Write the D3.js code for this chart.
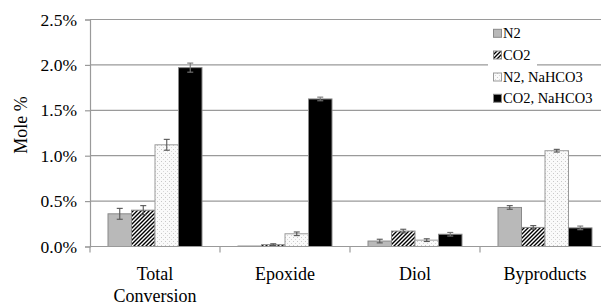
<!DOCTYPE html>
<html><head><meta charset="utf-8">
<script src="https://cdn.jsdelivr.net/npm/d3@7"></script>
<style>body{margin:0;background:#fff}svg{display:block}svg text{font-family:"Liberation Serif","Times New Roman",Times,serif}</style>
</head><body>
<script>
const categories = ["Total Conversion", "Epoxide", "Diol", "Byproducts"];
const series = ["N2", "CO2", "N2, NaHCO3", "CO2, NaHCO3"];
const valN2      = [0.36, 0.005, 0.06, 0.43];
const valCO2     = [0.40, 0.02, 0.17, 0.21];
const valN2Na    = [1.12, 0.14, 0.07, 1.055];
const valCO2Na   = [1.97, 1.625, 0.135, 0.205];
const errN2      = [0.06, 0.0, 0.02, 0.02];
const errCO2     = [0.05, 0.01, 0.02, 0.02];
const errN2Na    = [0.06, 0.02, 0.015, 0.015];
const errCO2Na   = [0.05, 0.02, 0.02, 0.02];
const yTicks = [0, 0.5, 1.0, 1.5, 2.0, 2.5];

const values = [valN2, valCO2, valN2Na, valCO2Na];
const errors = [errN2, errCO2, errN2Na, errCO2Na];

const W = 601, H = 304;
const svg = d3.select("body").append("svg").attr("width", W).attr("height", H);
const defs = svg.append("defs");
const hatch = defs.append("pattern").attr("id","hatch").attr("patternUnits","userSpaceOnUse")
  .attr("width",4).attr("height",4);
hatch.append("rect").attr("width",4).attr("height",4).attr("fill","#fff");
hatch.append("path").attr("d","M-1,1 l2,-2 M0,4 l4,-4 M3,5 l2,-2").attr("stroke","#000").attr("stroke-width",1.4);
const dots = defs.append("pattern").attr("id","dots").attr("patternUnits","userSpaceOnUse")
  .attr("width",4).attr("height",4);
dots.append("rect").attr("width",4).attr("height",4).attr("fill","#fafafa");
dots.append("rect").attr("x",1).attr("y",1).attr("width",1).attr("height",1).attr("fill","#c8c8c8");
dots.append("rect").attr("x",3).attr("y",3).attr("width",1).attr("height",1).attr("fill","#d8d8d8");

const fills = ["#b9b9b9", "url(#hatch)", "url(#dots)", "#000"];
const strokes = ["#8a8a8a", "#8a8a8a", "#9a9a9a", "#8a8a8a"];

const pLeft = 90, pRight = 610, pTop = 19.5, pBottom = 246.5;
const x0 = d3.scaleBand().domain(categories).range([pLeft, pRight]).padding(0);
const x1 = d3.scaleBand().domain(series).range([18, 112]).padding(0);
const y = d3.scaleLinear().domain([0, 2.5]).range([pBottom, pTop]);

// gridlines
svg.append("g").selectAll("line").data(yTicks.filter(t=>t>0)).join("line")
  .attr("x1", pLeft).attr("x2", W).attr("y1", d=>y(d)).attr("y2", d=>y(d))
  .attr("stroke","#9a9a9a").attr("stroke-width",1.2);

// y axis
const yAxis = svg.append("g").attr("transform",`translate(${pLeft},0)`)
  .call(d3.axisLeft(y).tickValues(yTicks).tickFormat(d=>d.toFixed(1)+"%").tickSize(5).tickPadding(8));
yAxis.attr("font-family", null);
yAxis.select(".domain").attr("stroke","#9a9a9a").attr("stroke-width",1.2);
yAxis.selectAll(".tick line").attr("stroke","#9a9a9a").attr("stroke-width",1.2);
yAxis.selectAll("text").attr("font-size",17.5).attr("fill","#000");

// bars
const g = svg.append("g");
series.forEach((s, si) => {
  categories.forEach((c, ci) => {
    const v = values[si][ci];
    const bx = x0(c) + x1(s);
    g.append("rect").attr("x", bx).attr("y", y(v)).attr("width", x1.bandwidth())
      .attr("height", y(0) - y(v)).attr("fill", fills[si]).attr("stroke", strokes[si]).attr("stroke-width",1);
  });
});
// error bars
series.forEach((s, si) => {
  categories.forEach((c, ci) => {
    const v = values[si][ci], e = errors[si][ci];
    if (e <= 0) return;
    const cx = x0(c) + x1(s) + x1.bandwidth()/2;
    const col = si === 3 ? "#777" : "#555";
    const eg = g.append("g").attr("stroke", col).attr("stroke-width",1.1);
    eg.append("line").attr("x1",cx).attr("x2",cx).attr("y1",y(v+e)).attr("y2",y(Math.max(0,v-e)));
    eg.append("line").attr("x1",cx-3).attr("x2",cx+3).attr("y1",y(v+e)).attr("y2",y(v+e));
    eg.append("line").attr("x1",cx-3).attr("x2",cx+3).attr("y1",y(Math.max(0,v-e))).attr("y2",y(Math.max(0,v-e)));
  });
});

// x axis
svg.append("line").attr("x1",pLeft).attr("x2",W).attr("y1",pBottom).attr("y2",pBottom)
  .attr("stroke","#9a9a9a").attr("stroke-width",1.2);
const bounds = categories.map(c=>x0(c)).concat([x0(categories[categories.length-1])+x0.bandwidth()]);
svg.append("g").selectAll("line").data(bounds).join("line")
  .attr("x1",d=>d).attr("x2",d=>d).attr("y1",pBottom).attr("y2",pBottom+6)
  .attr("stroke","#9a9a9a").attr("stroke-width",1.2);
const labelLines = {"Total Conversion": ["Total","Conversion"]};
categories.forEach(c => {
  const lines = labelLines[c] || [c];
  const t = svg.append("text").attr("x", x0(c)+x0.bandwidth()/2).attr("y", 279.5)
    .attr("text-anchor","middle").attr("font-size",18).attr("fill","#000");
  lines.forEach((l,i)=> t.append("tspan").attr("x", x0(c)+x0.bandwidth()/2).attr("dy", i===0?0:22).text(l));
});

// y label
svg.append("text").attr("transform","translate(27,125) rotate(-90)").attr("text-anchor","middle")
  .attr("font-size",18).attr("fill","#000").text("Mole %");

// legend
const lg = svg.append("g");
const rowY = [33.3, 55, 77, 98.3];
lg.append("rect").attr("x",488).attr("y",60).attr("width",49).attr("height",9).attr("fill","#fff");
series.forEach((s, si) => {
  const ry = rowY[si];
  lg.append("rect").attr("x",493.5).attr("y",ry-4).attr("width",8).attr("height",8)
    .attr("fill",fills[si]).attr("stroke",strokes[si]).attr("stroke-width",1);
  lg.append("text").attr("x",503).attr("y",ry+5).attr("font-size",14.5)
    .attr("fill","#000").text(s);
});
</script>
</body></html>
